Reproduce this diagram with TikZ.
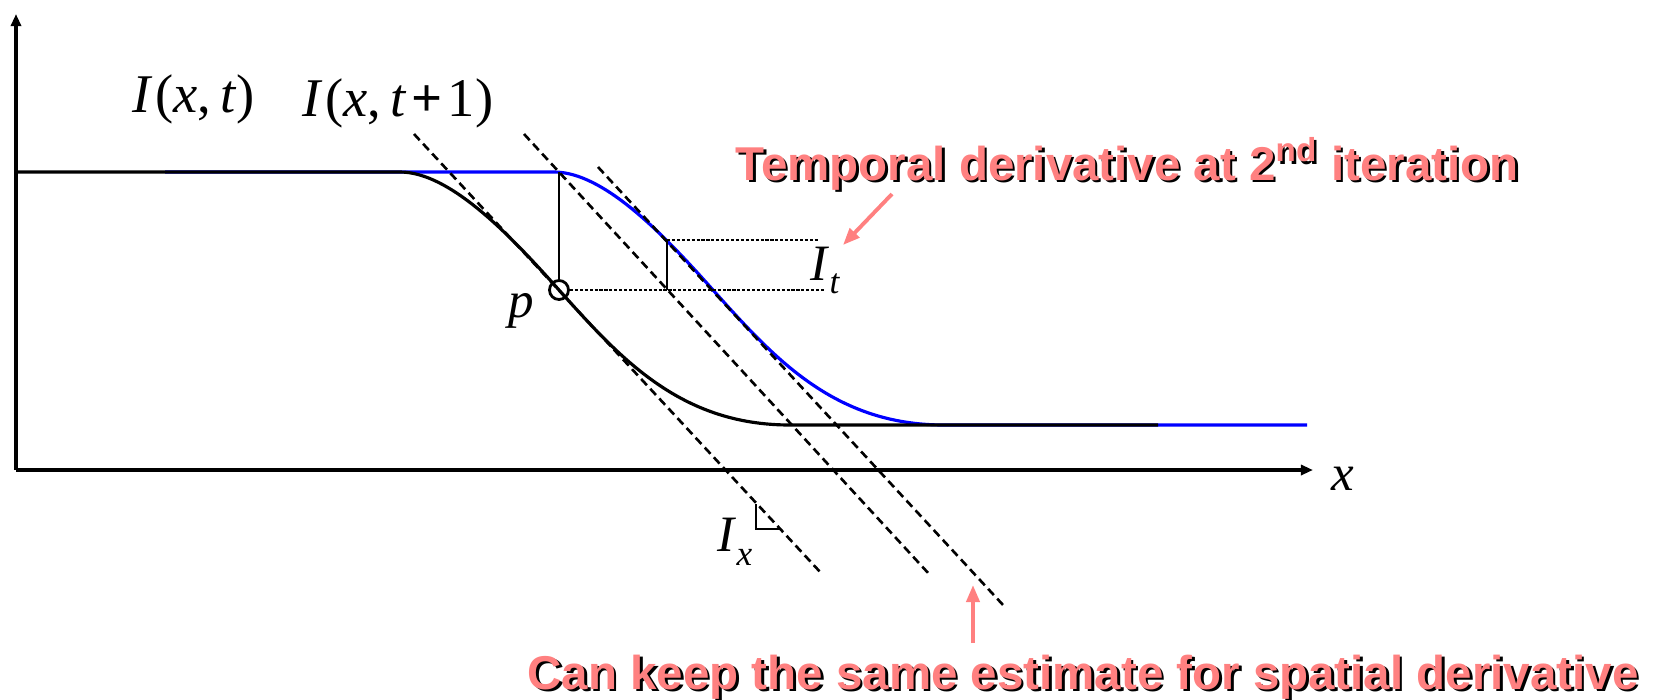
\documentclass[tikz,border=0pt]{standalone}
\usepackage{fontspec}
\setmainfont{Liberation Serif}
\newfontfamily\notefont{Liberation Sans}
\usetikzlibrary{arrows.meta}
\definecolor{notepink}{RGB}{255,128,128}

\begin{document}
\begin{tikzpicture}[x=0.01cm,y=-0.01cm,
  axis/.style={line width=0.9pt,-{Triangle[length=0.12cm,width=0.1cm]}},
  curve/.style={line width=0.9pt},
  tangent/.style={line width=0.75pt,dash pattern=on 2.4pt off 1.4pt},
  level/.style={line width=0.6pt,dash pattern=on 0.9pt off 0.5pt},
  diff/.style={line width=0.85pt},
  lbl/.style={inner sep=0pt,anchor=base west,font=\fontsize{14.5}{17}\selectfont},
  big/.style={lbl,font=\fontsize{15.5}{18}\selectfont},
  note/.style={inner sep=0pt,anchor=base west,
               font=\notefont\bfseries\fontsize{13.5}{16}\selectfont,text=notepink},
  shade/.style={note,text=black},
  pointer/.style={draw=notepink,line width=1.1pt,-{Triangle[length=0.17cm,width=0.13cm]}},
]
\useasboundingbox (0,0) rectangle (1653,699);

% Axes
\coordinate (o) at (16,470);
\coordinate (ytop) at (16,14);
\coordinate (xend) at (1313,470);
\draw[axis] (o) -- (ytop);
\draw[axis] (o) -- (xend);

% Image profiles: I(x,t+1) in blue, I(x,t) in black
\draw[curve,blue] (165,172) -- (554,172) .. controls (604,172) and (664,235) .. (713,290)
  .. controls (774,358) and (834,425) .. (944,425) -- (1307,425);
\draw[curve] (16,172) -- (400,172) .. controls (450,172) and (510,235) .. (559,290)
  .. controls (620,358) and (680,425) .. (790,425) -- (1158,425);

% Point p
\node[circle,draw,line width=0.8pt,minimum size=0.19cm,inner sep=0pt] (p) at (559,290) {};

% Tangent lines (same slope)
\coordinate (t1a) at (414,134);  \coordinate (t1b) at (822,574);
\coordinate (t2a) at (524,134);  \coordinate (t2b) at (930,575);
\coordinate (t3a) at (598,167);  \coordinate (t3b) at (1004,606);
\draw[tangent] (t1a) -- (t1b);
\draw[tangent] (t2a) -- (t2b);
\draw[tangent] (t3a) -- (t3b);

% Temporal differences
\coordinate (q1) at (559,172);
\coordinate (q2) at (667,240);
\coordinate (q3) at (667,290);
\draw[diff] (q1) -- (p.north);
\draw[diff] (q2) -- (q3);
\coordinate (d1) at (818,240);
\coordinate (d2) at (825,290);
\draw[level] (q2) -- (d1);
\draw[level] (p.east) -- (d2);

% Right angle mark
\coordinate (r1) at (756,504);
\coordinate (r2) at (756,529);
\coordinate (r3) at (781,529);
\draw[line width=0.8pt] (r1) -- (r2) -- (r3);

% Labels
\node[big] (Ixt) at (132,112) {\textit{I}\kern0.6pt(\textit{x},\,\textit{t})};
\node[big] (Ixt1) at (302,116) {\textit{I}\kern0.6pt(\textit{x},\,\textit{t}\kern1.5pt\textbf{+}\kern1.5pt1)};
\node[lbl] (xlbl) at (1331,490) {\textit{x}};
\node[lbl] (plbl) at (508,317) {\textit{p}};
\node[lbl] (It) at (810,280) {\textit{I}\raisebox{-0.26em}{\fontsize{10}{12}\selectfont\textit{t}}};
\node[lbl] (Ix) at (717,551) {\textit{I}\raisebox{-0.28em}{\fontsize{10}{12}\selectfont\textit{x}}};

% Notes
\node[shade] at (737.5,182.5) {Temporal derivative at 2\textsuperscript{nd} iteration};
\node[note] (temporal) at (735,180) {Temporal derivative at 2\textsuperscript{nd} iteration};
\node[shade] at (529.5,691.5) {Can keep the same estimate for spatial derivative};
\node[note] (spatial) at (527,689) {Can keep the same estimate for spatial derivative};

\coordinate (a1) at (892,194);
\coordinate (a2) at (843,245);
\coordinate (b1) at (973,643);
\coordinate (b2) at (973,585);
\draw[pointer] (a1) -- (a2);
\draw[pointer] (b1) -- (b2);

\end{tikzpicture}
\end{document}
